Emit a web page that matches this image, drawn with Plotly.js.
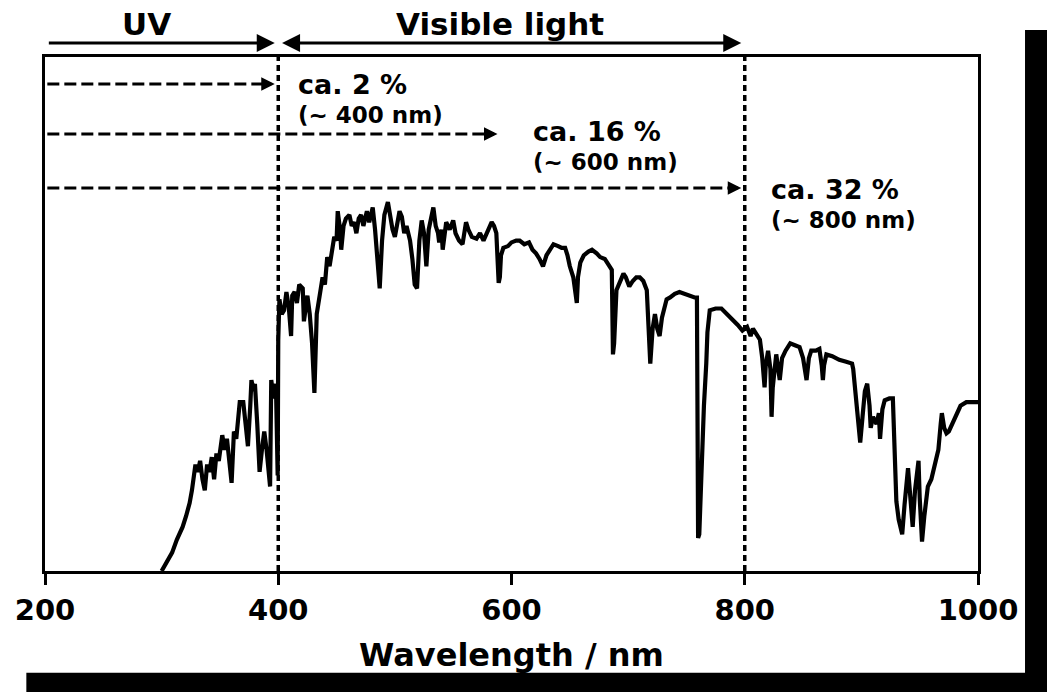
<!DOCTYPE html>
<html>
<head>
<meta charset="utf-8">
<script src="https://cdn.plot.ly/plotly-3.0.1.min.js"></script>
<style>html,body{margin:0;padding:0;background:#fff;}#chart{width:1047px;height:692px;}</style>
</head>
<body>
<div id="chart"></div>
<script>
// Solar spectrum (relative irradiance, peak ~ 1)
const wavelength = [300,302,305,309,313,318,321,324,326,327,329,331,333,335,337,339,341,343,345,347,349,352,354,356,358,360,362,364,367,370,372,374,376,377,379,380,382,384,386,388,390,393,394,396,398,399.5,400,401,403,405,407,409,411,412,414,416,418,421,422,424,425,427,429,431,432,433,436,438,440,442,444,446,448,450,451,453,454,456,458,461,463,465,467,469,471,473,476,478,481,483,485,487,489,491,494,496,498,500,502,504,506,508,510,513,515,517,519,521,523,525,527,529,531,533,535,537,538,540,541,544,547,550,552,555,558,561,563,566,570,573,576,580,583,585,587,589,590,591,593,597,600,604,607,611,615,618,621,624,627,630,633,636,640,643,646,648,650,653,656,657,659,662,666,669,673,676,680,684,686,687,688,690,693,696,698,701,704,707,710,713,716,718,719,721,723,725,727,729,731,733,736,740,744,748,753,757,759,760,761,763,765,767,768,770,775,780,785,790,794,798,802,805,807,810,813,815,816,817,818,820,822,823,824,827,830,832,835,839,843,847,850,853,855,857,861,864,866,867,868,870,875,881,887,892,893,894,896,899,901,903,905,907,908,910,913,915,916,918,920,924,927,928,930,932,935,937,939,940,942,944,946,948,949,950,952,954,957,960,963,966,968,969,971,973,975,979,982,985,990,996,1000];
const irradiance = [0,0.01,0.025,0.05,0.085,0.12,0.15,0.185,0.22,0.25,0.29,0.27,0.30,0.25,0.22,0.29,0.27,0.31,0.25,0.32,0.30,0.37,0.33,0.36,0.30,0.24,0.38,0.36,0.46,0.46,0.40,0.34,0.45,0.52,0.49,0.51,0.40,0.27,0.33,0.38,0.33,0.23,0.52,0.47,0.51,0.26,0.63,0.74,0.70,0.71,0.76,0.72,0.64,0.75,0.76,0.73,0.78,0.77,0.68,0.72,0.75,0.70,0.62,0.485,0.62,0.70,0.76,0.80,0.78,0.855,0.83,0.88,0.91,0.90,0.98,0.93,0.875,0.94,0.96,0.97,0.94,0.95,0.92,0.96,0.97,0.94,0.98,0.95,0.99,0.93,0.85,0.77,0.90,0.97,1.005,0.96,0.93,0.91,0.95,0.98,0.965,0.92,0.94,0.90,0.85,0.78,0.77,0.90,0.955,0.92,0.83,0.93,0.96,0.99,0.94,0.92,0.895,0.93,0.875,0.95,0.93,0.955,0.92,0.90,0.89,0.95,0.93,0.91,0.905,0.92,0.90,0.93,0.95,0.94,0.92,0.785,0.80,0.86,0.88,0.885,0.895,0.90,0.90,0.89,0.895,0.875,0.865,0.85,0.83,0.86,0.875,0.89,0.885,0.88,0.88,0.86,0.83,0.80,0.73,0.80,0.84,0.86,0.87,0.875,0.865,0.855,0.85,0.83,0.82,0.59,0.62,0.765,0.79,0.81,0.80,0.775,0.79,0.80,0.80,0.79,0.765,0.66,0.565,0.66,0.70,0.66,0.64,0.69,0.72,0.74,0.745,0.755,0.76,0.755,0.75,0.745,0.745,0.09,0.10,0.29,0.45,0.565,0.65,0.71,0.715,0.715,0.70,0.685,0.67,0.655,0.665,0.64,0.66,0.645,0.63,0.58,0.53,0.50,0.56,0.60,0.55,0.42,0.50,0.59,0.52,0.58,0.60,0.62,0.615,0.61,0.58,0.52,0.58,0.60,0.60,0.605,0.56,0.52,0.56,0.59,0.585,0.575,0.57,0.565,0.55,0.52,0.44,0.35,0.42,0.49,0.51,0.45,0.39,0.42,0.40,0.43,0.36,0.44,0.465,0.47,0.47,0.35,0.19,0.14,0.10,0.18,0.27,0.28,0.20,0.12,0.22,0.29,0.30,0.20,0.08,0.15,0.23,0.25,0.29,0.33,0.40,0.43,0.39,0.375,0.38,0.41,0.43,0.45,0.46,0.46,0.46];

const tickValues = [200, 400, 600, 800, 1000];
const tickLabels = ["200", "400", "600", "800", "1000"];
const regionNames = ["UV", "Visible light"];
const regionCenters = [287, 590];
const boundaries = [400, 800];
const fractionLabels = ["ca. 2 %", "ca. 16 %", "ca. 32 %"];
const limitLabels = ["(~ 400 nm)", "(~ 600 nm)", "(~ 800 nm)"];
const fractionArrowEnds = [397, 588, 797];
const fractionLabelX = [415, 617, 821];
const fractionArrowY = [0.9475, 0.850, 0.745];
const labelBlockY = [0.920, 0.827, 0.715];

const FONT = "DejaVu Sans, Verdana, Arial, sans-serif";

const trace = {
  x: wavelength, y: irradiance, type: 'scatter', mode: 'lines',
  line: {color: '#000', width: 4.2, shape: 'linear'}, hoverinfo: 'skip', showlegend: false
};

const shapes = [];
const annotations = [];

// vertical dashed boundaries
boundaries.forEach(b => shapes.push({type: 'line', xref: 'x', yref: 'paper', x0: b, x1: b, y0: 0, y1: 1,
  line: {color: '#000', width: 3.5, dash: '6px,4px'}}));

// horizontal dashed arrows with labels
fractionArrowEnds.forEach((e, i) => {
  shapes.push({type: 'line', xref: 'x', yref: 'paper', x0: 202, x1: e - 5, y0: fractionArrowY[i], y1: fractionArrowY[i],
    line: {color: '#000', width: 3, dash: '12px,5px'}});
  annotations.push({x: e, y: fractionArrowY[i], xref: 'x', yref: 'paper', ax: e - 12, ay: 0, axref: 'x', ayref: 'pixel',
    showarrow: true, arrowhead: 2, arrowsize: 0.9, arrowwidth: 3, arrowcolor: '#000', text: ''});
  annotations.push({x: fractionLabelX[i], y: labelBlockY[i], xref: 'x', yref: 'paper', xanchor: 'left', yanchor: 'middle',
    align: 'left', showarrow: false,
    text: '<span style="font-size:27px">' + fractionLabels[i] + '</span><br><span style="font-size:23px">' + limitLabels[i] + '</span>',
    font: {family: FONT, size: 22, color: '#000', weight: 'bold'}});
});

// top region arrows
annotations.push({x: 397, y: 1.027, xref: 'x', yref: 'paper', ax: 202, ay: 0, axref: 'x', ayref: 'pixel',
  showarrow: true, arrowhead: 2, arrowsize: 1.2, arrowwidth: 3, arrowcolor: '#000', text: ''});
annotations.push({x: 797, y: 1.027, xref: 'x', yref: 'paper', ax: 402, ay: 0, axref: 'x', ayref: 'pixel',
  showarrow: true, arrowhead: 2, startarrowhead: 2, arrowside: 'end+start', arrowsize: 1.2, startarrowsize: 1.2,
  arrowwidth: 3, arrowcolor: '#000', text: ''});
regionNames.forEach((n, i) => annotations.push({x: regionCenters[i], y: 1.064, xref: 'x', yref: 'paper',
  xanchor: 'center', yanchor: 'middle', showarrow: false, text: n, font: {family: FONT, size: 31, color: '#000', weight: 'bold'}}));

// scan edge borders
shapes.push({type: 'rect', xref: 'paper', yref: 'paper', x0: 1.0504, x1: 1.08, y0: -0.25, y1: 1.0525,
  fillcolor: '#000', line: {width: 0}, layer: 'above'});
shapes.push({type: 'rect', xref: 'paper', yref: 'paper', x0: -0.02, x1: 1.08, y0: -0.25, y1: -0.198,
  fillcolor: '#000', line: {width: 0}, layer: 'above'});

const layout = {
  width: 1047, height: 692,
  margin: {l: 45, r: 69, t: 57, b: 121},
  paper_bgcolor: '#fff', plot_bgcolor: '#fff',
  showlegend: false,
  xaxis: {
    range: [200, 1000], tickvals: tickValues, ticktext: tickLabels,
    ticks: 'outside', ticklen: 11, tickwidth: 3, tickcolor: '#000',
    showline: true, mirror: true, linewidth: 3, linecolor: '#000',
    showgrid: false, zeroline: false,
    tickfont: {family: FONT, size: 29, color: '#000', weight: 'bold'},
    title: {text: 'Wavelength / nm', standoff: 18, font: {family: FONT, size: 32, color: '#000', weight: 'bold'}}
  },
  yaxis: {
    range: [0, 1.4], showticklabels: false, ticks: '',
    showline: true, mirror: true, linewidth: 3, linecolor: '#000',
    showgrid: false, zeroline: false
  },
  shapes: shapes,
  annotations: annotations
};

Plotly.newPlot('chart', [trace], layout, {staticPlot: true, displayModeBar: false});
</script>
</body>
</html>
